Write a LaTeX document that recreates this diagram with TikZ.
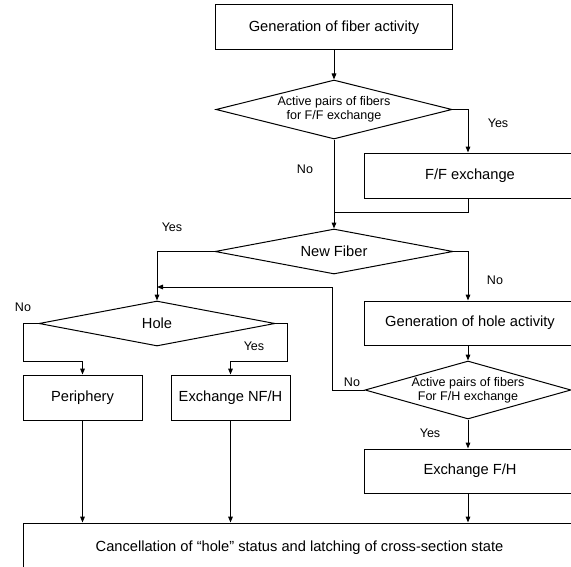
\documentclass[tikz,border=0pt]{standalone}
\usepackage{fontspec}
\setmainfont{Liberation Sans}
\usepackage{tikz}
\usetikzlibrary{shapes.geometric, arrows.meta, positioning}

\begin{document}
\begin{tikzpicture}[
    x=0.75pt, y=-0.75pt,
    box/.style={rectangle, draw=black, line width=0.75pt, minimum height=33.75pt, align=center, inner sep=0pt, font=\fontsize{11}{13}\selectfont},
    decision/.style={diamond, draw=black, line width=0.75pt, aspect=3.5, inner sep=0pt, align=center, font=\fontsize{11}{13}\selectfont},
    smalltext/.style={font=\fontsize{9.4}{10.5}\selectfont},
    lbl/.style={inner sep=0pt, font=\fontsize{9.4}{11}\selectfont},
    line/.style={draw=black, line width=0.75pt, -{Triangle[length=4.5pt, width=3.5pt]}},
    plain/.style={draw=black, line width=0.75pt}
]
\useasboundingbox (0,0) rectangle (571,567);
\clip (0,0) rectangle (571,567);

% Nodes
\node[box, minimum width=177.75pt] (fibact) at (334,27.5) {Generation of fiber activity};
\node[decision, smalltext, minimum width=177pt, minimum height=44.25pt, below=21.75pt of fibact] (ffpair) {Active pairs of fibers\\for F/F exchange};
\node[box, minimum width=159pt] (ffex) at (470,175.5) {F/F exchange};
\node[decision, minimum width=178.5pt, minimum height=33.75pt, below=66.75pt of ffpair] (newfib) {New Fiber};

% Right branch (boxes run past the right border)
\coordinate (rcol) at (468,0);
\node[box, minimum width=159pt, minimum height=33pt] (holeact) at (470,323) {Generation of hole activity};
\node[decision, smalltext, minimum width=154.5pt, minimum height=43.5pt] (fhpair) at (468,390) {Active pairs of fibers\\For F/H exchange};
\node[box, minimum width=159pt, minimum height=33pt] (fhex) at (470,471) {Exchange F/H};

% Left branch
\node[decision, minimum width=177pt, minimum height=33.75pt] (hole) at (157,323.5) {Hole};
\node[box, minimum width=89.25pt] (periph) at (82.5,397.5) {Periphery};
\node[box, minimum width=89.25pt] (nfhex) at (230.5,397.5) {Exchange NF/H};

\node[box, minimum width=414.75pt, minimum height=36.75pt] (cancel) at (299.5,547.5) {Cancellation of “hole” status and latching of cross-section state};

\coordinate (ffjoin) at (334,212);
\coordinate (holejoin) at (157,287);

% Labels
\node[lbl] (yesff) at (498,123) {Yes};
\node[lbl] (noff) at (305,169) {No};
\node[lbl] (yesnew) at (172,227) {Yes};
\node[lbl] (nonew) at (495,280) {No};
\node[lbl] (nohole) at (23,307) {No};
\node[lbl] (yeshole) at (254,346) {Yes};
\node[lbl] (nofh) at (352,382) {No};
\node[lbl] (yesfh) at (430,433) {Yes};

% Connections
\draw[line] (fibact) -- (ffpair);
\draw[line] (ffpair.east) -| (rcol |- ffex.north);
\draw[line] (ffpair.south) -- (newfib.north);
\draw[plain] (rcol |- ffex.south) |- (ffjoin);

\draw[line] (newfib.west) -| (hole.north);
\draw[line] (newfib.east) -| (rcol |- holeact.north);
\draw[line] (rcol |- holeact.south) -- (fhpair.north);
\draw[line] (fhpair.south) -- (rcol |- fhex.north);
\draw[line] (fhpair.west) -- ++(-32,0) |- (holejoin);

\draw[line] (hole.west) -- ++(-15,0) -- ++(0,38) -| (periph.north);
\draw[line] (hole.east) -- ++(12,0) -- ++(0,38) -| (nfhex.north);

\draw[line] (periph) -- (periph |- cancel.north);
\draw[line] (nfhex) -- (nfhex |- cancel.north);
\draw[line] (rcol |- fhex.south) -- (rcol |- cancel.north);

\end{tikzpicture}
\end{document}
